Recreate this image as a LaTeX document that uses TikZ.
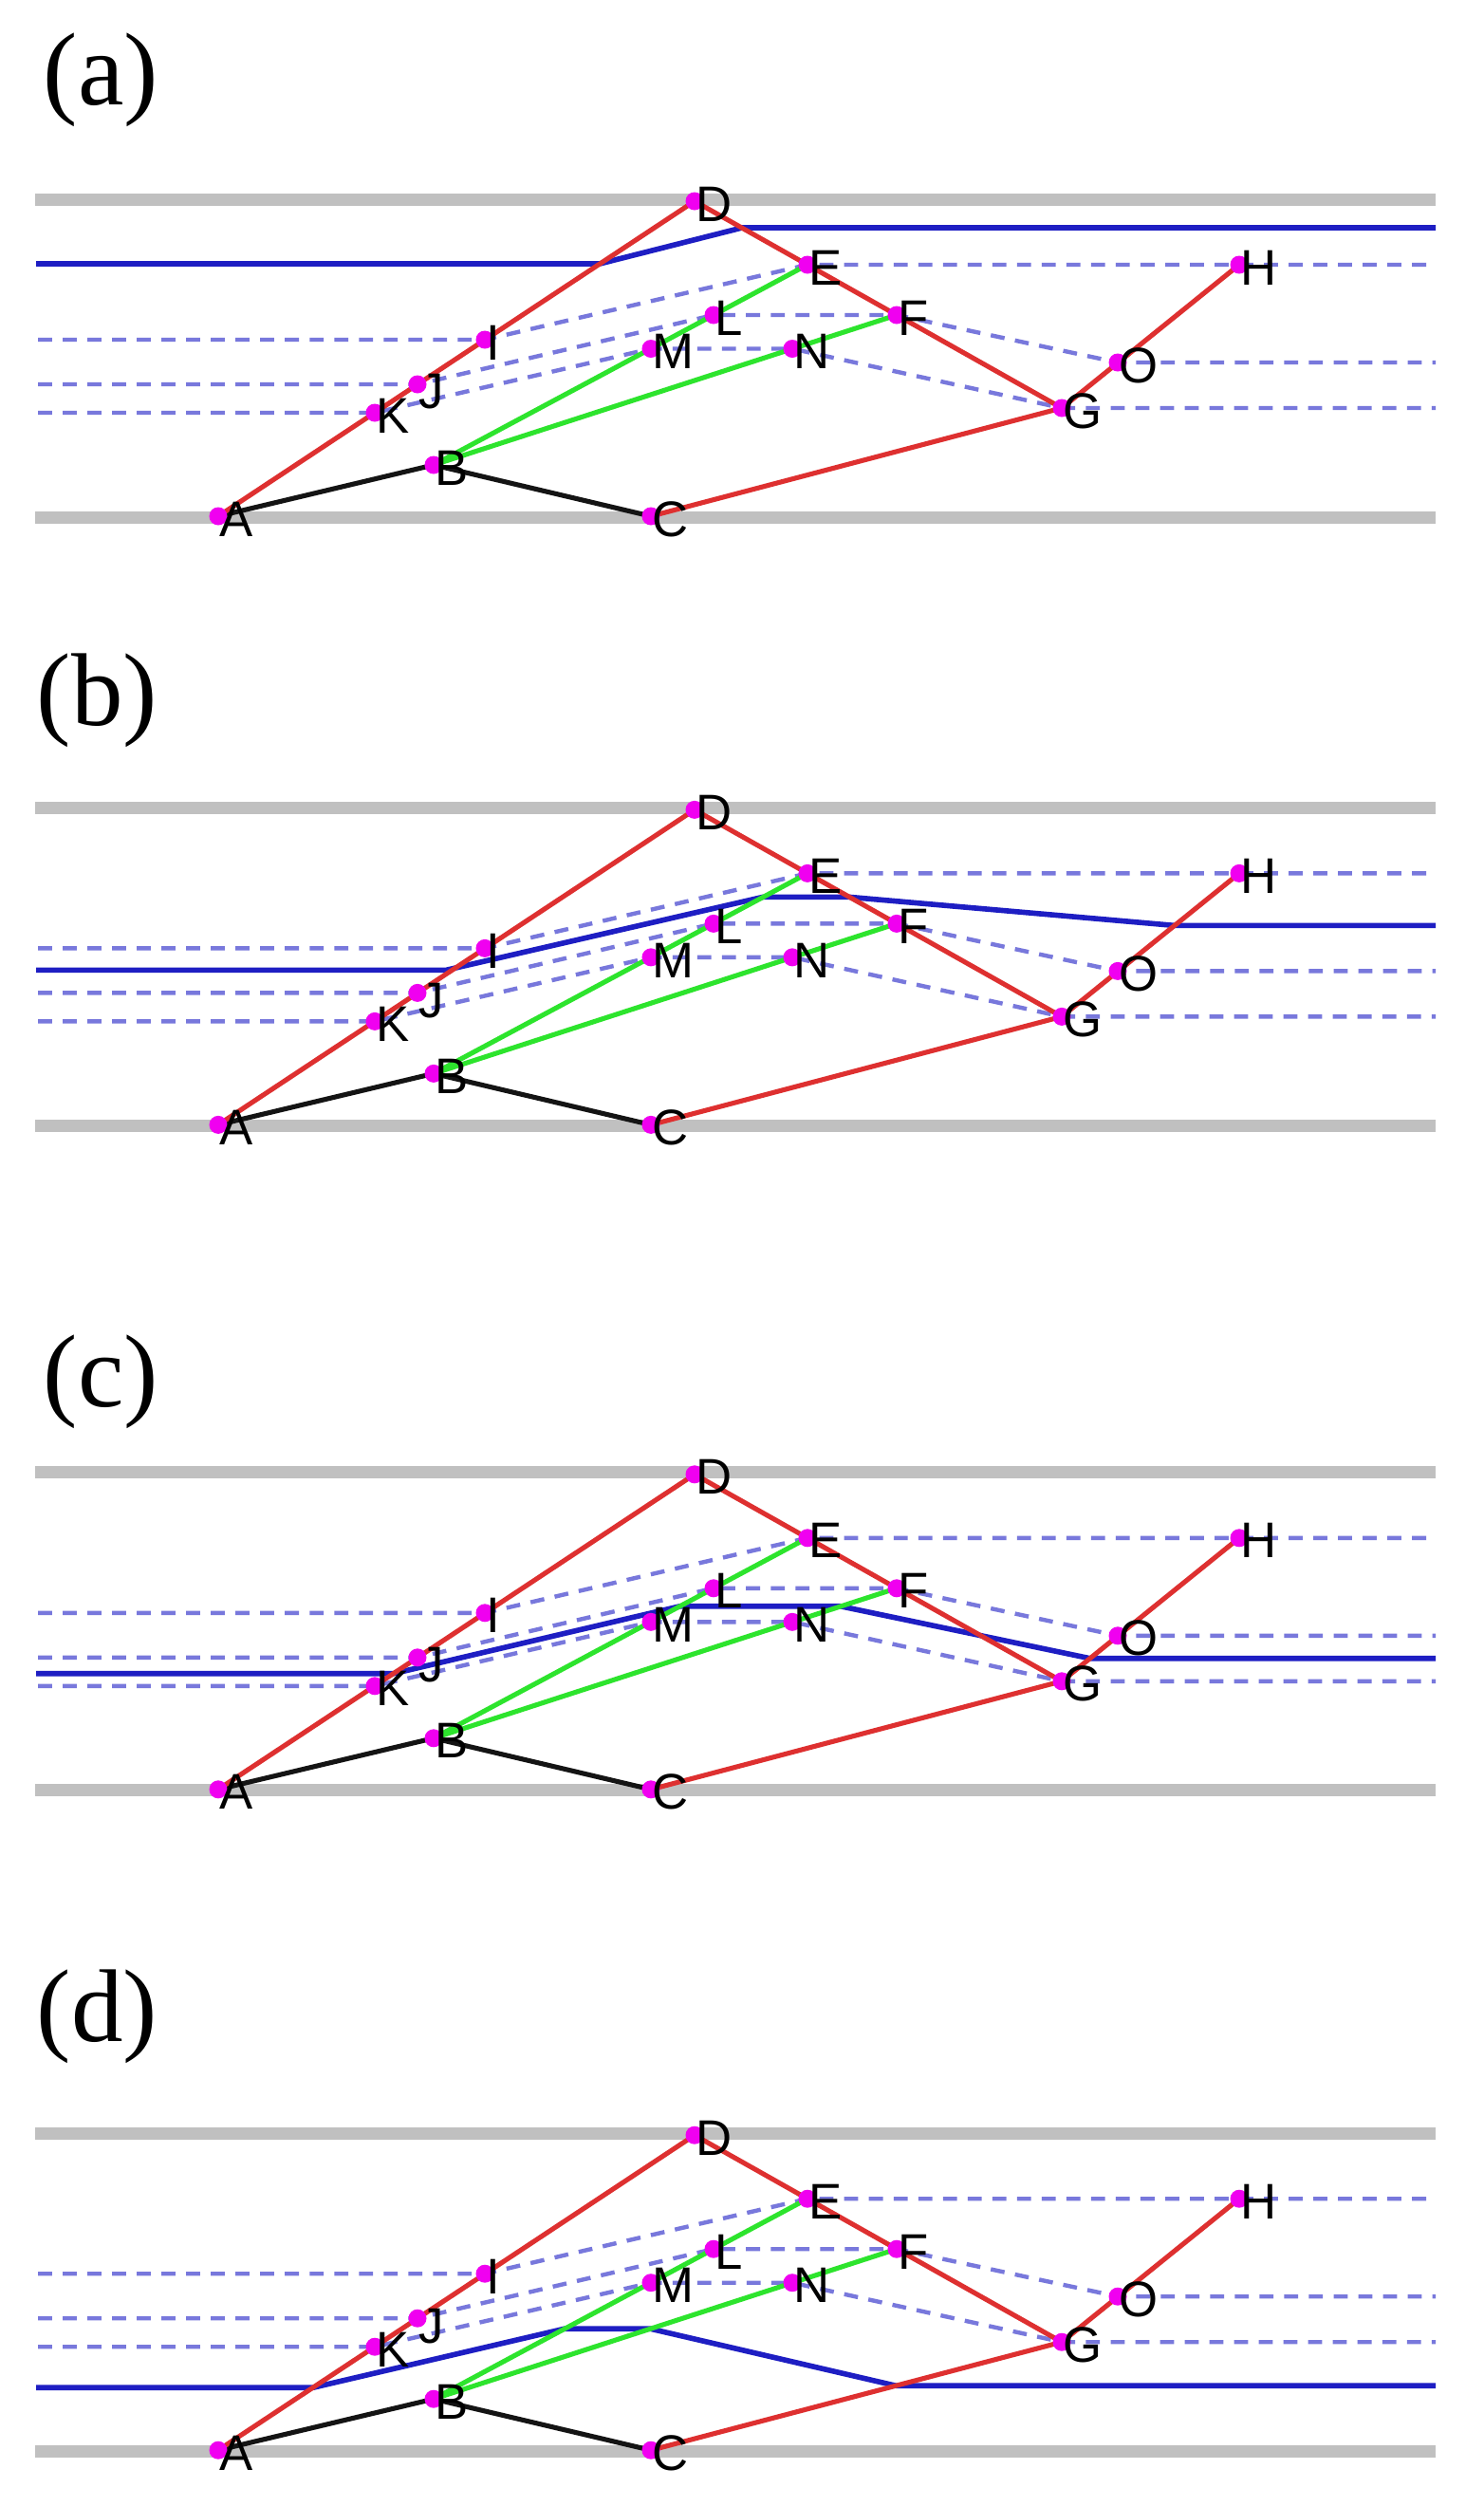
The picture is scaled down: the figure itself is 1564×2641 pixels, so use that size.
\documentclass[tikz,border=0pt]{standalone}
\usepackage{fontspec}
\setmainfont{Liberation Serif}
\newfontfamily\labfont{Liberation Sans}
\definecolor{grayln}{RGB}{192,192,192}
\definecolor{redln}{RGB}{222,48,48}
\definecolor{greenln}{RGB}{45,228,45}
\definecolor{blackln}{RGB}{20,20,20}
\definecolor{blueln}{RGB}{30,30,195}
\definecolor{dashln}{RGB}{120,120,220}
\definecolor{dotcol}{RGB}{240,0,240}
\tikzset{
  grayline/.style={draw=grayln, line width=3.7pt},
  dashline/.style={draw=dashln, line width=1.25pt, dash pattern=on 4.2pt off 3.2pt},
  blueline/.style={draw=blueln, line width=1.6pt, line join=round},
  redline/.style={draw=redln, line width=1.45pt, line join=round},
  greenline/.style={draw=greenln, line width=1.45pt},
  blackline/.style={draw=blackln, line width=1.45pt, line join=round},
  dotnode/.style={circle, fill=dotcol, minimum size=0.19cm, inner sep=0pt},
  ptlabel/.style={anchor=west, inner sep=0pt, font=\labfont\fontsize{15}{17}\selectfont, text=black},
  panellabel/.style={anchor=base west, inner sep=0pt, font=\fontsize{31}{36}\selectfont},
}
% base layer of a panel: points, gray rails, dashed lines
\newcommand{\panelbase}[2]{%
\begin{scope}[yshift=-#2cm]
  \coordinate (#1A) at (230,544);
  \coordinate (#1B) at (457,490);
  \coordinate (#1C) at (686,544);
  \coordinate (#1D) at (732,212);
  \coordinate (#1E) at (851,279);
  \coordinate (#1F) at (945,332);
  \coordinate (#1G) at (1119,430);
  \coordinate (#1H) at (1306,279);
  \coordinate (#1I) at (511,358);
  \coordinate (#1J) at (440,405);
  \coordinate (#1K) at (395,435);
  \coordinate (#1L) at (752,332);
  \coordinate (#1M) at (686,367.5);
  \coordinate (#1N) at (835,367.5);
  \coordinate (#1O) at (1178,382);
  \coordinate (#1tl) at (37,210);
  \coordinate (#1tr) at (1513,210);
  \coordinate (#1bl) at (37,545);
  \coordinate (#1br) at (1513,545);
  \coordinate (#1iL) at (40,358);
  \coordinate (#1jL) at (40,405);
  \coordinate (#1kL) at (40,435);
  \coordinate (#1eR) at (1513,279);
  \coordinate (#1oR) at (1513,382);
  \coordinate (#1gR) at (1513,430);
  \draw[grayline] (#1tl) -- (#1tr);
  \draw[grayline] (#1bl) -- (#1br);
  \draw[dashline] (#1iL) -- (#1I) -- (#1E) -- (#1eR);
  \draw[dashline] (#1jL) -- (#1J) -- (#1L) -- (#1F) -- (#1O) -- (#1oR);
  \draw[dashline] (#1kL) -- (#1K) -- (#1M) -- (#1N) -- (#1G) -- (#1gR);
\end{scope}}
% top layer of a panel: solid lines, dots, letters
\newcommand{\paneltop}[1]{%
  \draw[blackline] (#1A) -- (#1B) -- (#1C);
  \draw[greenline] (#1B) -- (#1E);
  \draw[greenline] (#1B) -- (#1F);
  \draw[redline] (#1A) -- (#1D) -- (#1G);
  \draw[redline] (#1C) -- (#1G) -- (#1H);
  \foreach \p in {A,B,C,D,E,F,G,H,I,K,L,M,N,O}{
    \path (#1\p) node[dotnode] (#1\p dot) {} ++(1,3) node[ptlabel] (#1\p lab) {\p};
  }
  \path (#1J) node[dotnode] (#1Jdot) {} ++(1,8) node[ptlabel] (#1Jlab) {J};
}
\begin{document}
\begin{tikzpicture}[x=0.01cm, y=-0.01cm]
\useasboundingbox (0,0) rectangle (1564,2641);
\fill[white] (0,0) rectangle (1564,2641);

% panel labels
\node[panellabel] (tagA) at (45,110) {(a)};
\node[panellabel] (tagB) at (38,764) {(b)};
\node[panellabel] (tagC) at (45,1482) {(c)};
\node[panellabel] (tagD) at (38,2151) {(d)};

% ---------- panel (a)
\panelbase{a}{0}
\coordinate (ab0) at (38,278);
\coordinate (ab1) at (632,278);
\coordinate (ab2) at (782,240);
\coordinate (ab3) at (1513,240);
\draw[blueline] (ab0) -- (ab1) -- (ab2) -- (ab3);
\paneltop{a}

% ---------- panel (b)
\panelbase{b}{6.41}
\begin{scope}[yshift=-6.41cm]
\coordinate (bb0) at (38,381);
\coordinate (bb1) at (470,381);
\coordinate (bb2) at (804,304);
\coordinate (bb3) at (895,304);
\coordinate (bb4) at (1238,334);
\coordinate (bb5) at (1513,334);
\end{scope}
\draw[blueline] (bb0) -- (bb1) -- (bb2) -- (bb3) -- (bb4) -- (bb5);
\paneltop{b}

% ---------- panel (c)
\panelbase{c}{13.41}
\begin{scope}[yshift=-13.41cm]
\coordinate (cb0) at (38,422);
\coordinate (cb1) at (414.5,422);
\coordinate (cb2) at (716.6,351);
\coordinate (cb3) at (886,351);
\coordinate (cb4) at (1149,406);
\coordinate (cb5) at (1513,406);
\end{scope}
\draw[blueline] (cb0) -- (cb1) -- (cb2) -- (cb3) -- (cb4) -- (cb5);
\paneltop{c}

% ---------- panel (d)
\panelbase{d}{20.37}
\begin{scope}[yshift=-20.37cm]
\coordinate (db0) at (38,478);
\coordinate (db1) at (330,478);
\coordinate (db2) at (595,416);
\coordinate (db3) at (685.5,416);
\coordinate (db4) at (944,476);
\coordinate (db5) at (1513,476);
\end{scope}
\draw[blueline] (db0) -- (db1) -- (db2) -- (db3) -- (db4) -- (db5);
\paneltop{d}
\end{tikzpicture}
\end{document}
